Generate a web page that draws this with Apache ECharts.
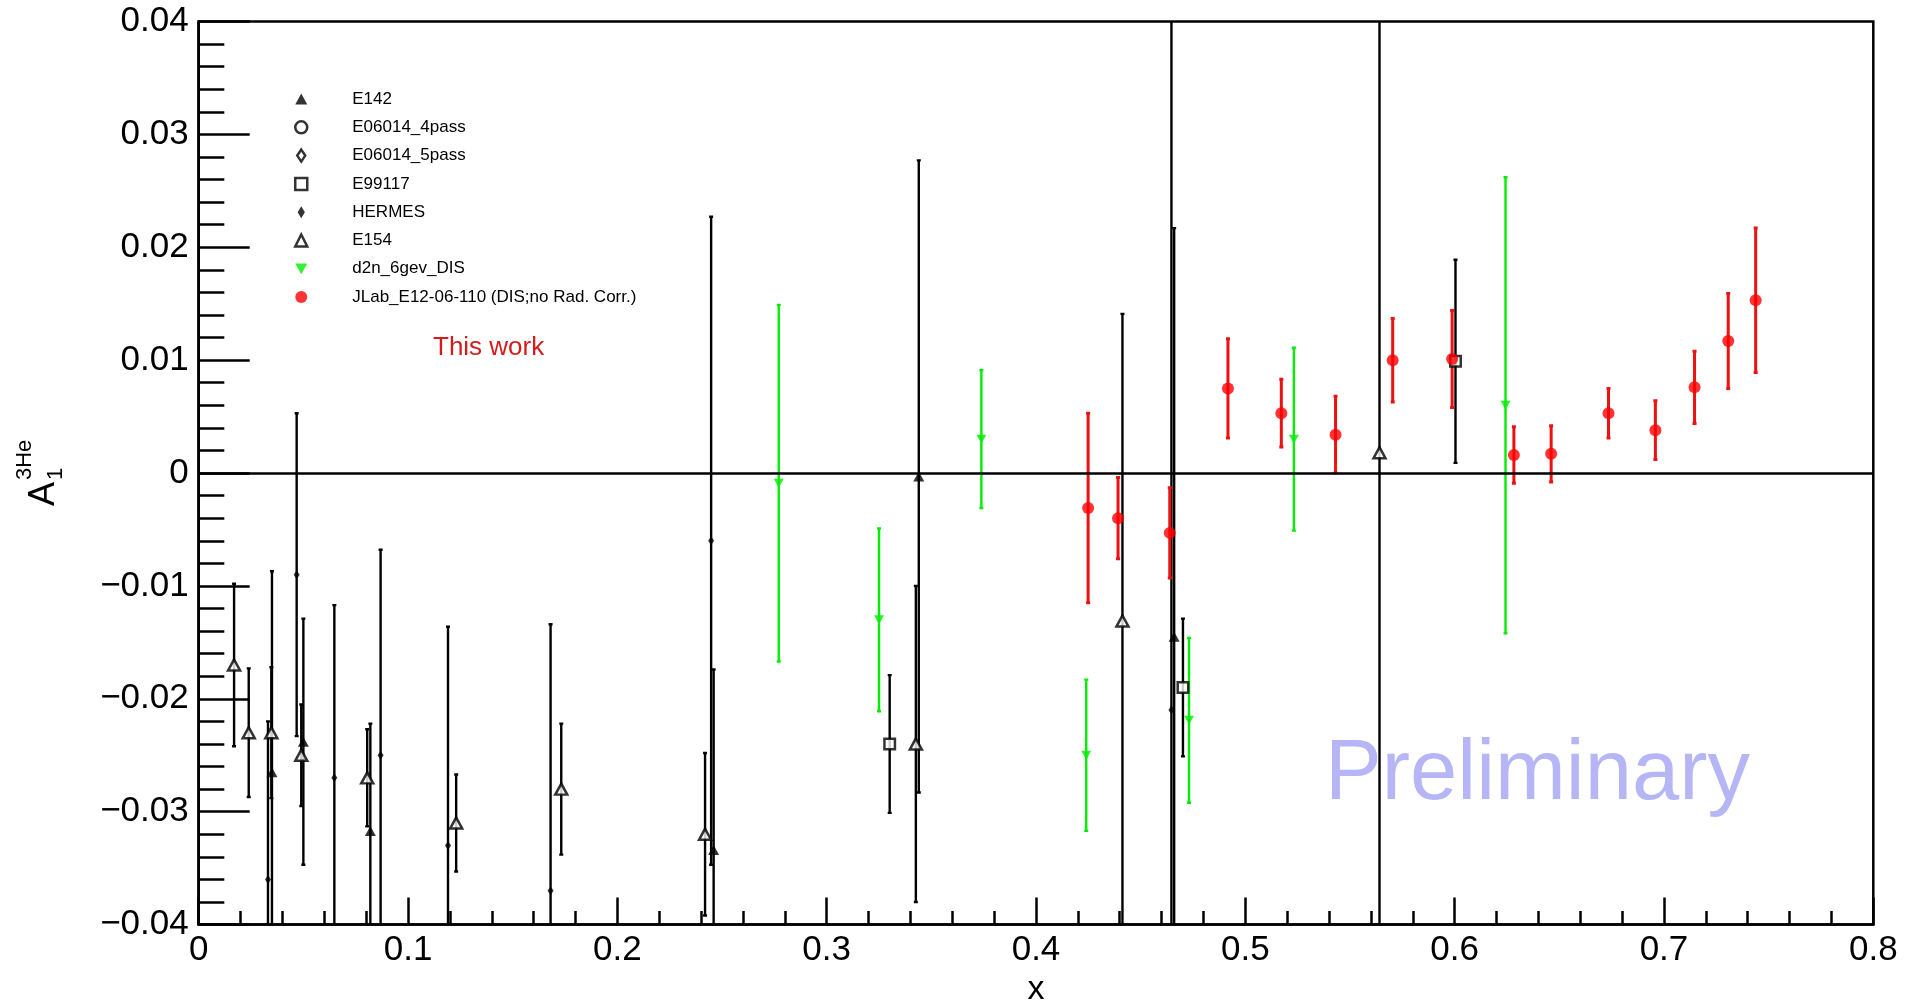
<!DOCTYPE html>
<html>
<head>
<meta charset="utf-8">
<script src="https://cdn.jsdelivr.net/npm/echarts@6.0.0/dist/echarts.min.js"></script>
<style>
  html, body { margin: 0; padding: 0; background: #fff; }
  #chart { width: 1911px; height: 1000px; }
</style>
</head>
<body>
<div id="chart"></div>
<script>
// ---- axis ticks ----
const xTickValues = [0, 0.1, 0.2, 0.3, 0.4, 0.5, 0.6, 0.7, 0.8];
const xTickLabels = ['0', '0.1', '0.2', '0.3', '0.4', '0.5', '0.6', '0.7', '0.8'];
const yTickValues = [-0.04, -0.03, -0.02, -0.01, 0, 0.01, 0.02, 0.03, 0.04];
const yTickLabels = ['\u22120.04', '\u22120.03', '\u22120.02', '\u22120.01', '0', '0.01', '0.02', '0.03', '0.04'];

// ---- data sets: x, A1, symmetric uncertainty ----
const e142X   = [0.035, 0.050, 0.082, 0.246, 0.344, 0.466];
const e142Y   = [-0.0265, -0.0238, -0.0317, -0.0334, -0.0003, -0.0145];
const e142Err = [0.0178, 0.0109, 0.0095, 0.0160, 0.0280, 0.0362];

const e06014p4X = [], e06014p4Y = [], e06014p4Err = [];
const e06014p5X = [], e06014p5Y = [], e06014p5Err = [];

const e99117X   = [0.3301, 0.4702, 0.6004];
const e99117Y   = [-0.0240, -0.0190, 0.0099];
const e99117Err = [0.0061, 0.0061, 0.0090];

const hermesX   = [0.0331, 0.0468, 0.0648, 0.0869, 0.1191, 0.1681, 0.2448, 0.4647];
const hermesY   = [-0.0360, -0.0090, -0.0270, -0.0250, -0.0330, -0.0370, -0.0060, -0.0210];
const hermesErr = [0.0140, 0.0143, 0.0153, 0.0182, 0.0194, 0.0236, 0.0287, 0.0650];

const e154X   = [0.0169, 0.0239, 0.0347, 0.0490, 0.0805, 0.1230, 0.1732, 0.2419, 0.3426, 0.4413, 0.5641];
const e154Y   = [-0.0170, -0.0230, -0.0230, -0.0250, -0.0270, -0.0310, -0.0280, -0.0320, -0.0240, -0.0131, 0.0018];
const e154Err = [0.0072, 0.0057, 0.0058, 0.0045, 0.0043, 0.0043, 0.0058, 0.0072, 0.0140, 0.0272, 0.0520];

const d2nX   = [0.2771, 0.3250, 0.3739, 0.4240, 0.4731, 0.5232, 0.6243];
const d2nY   = [-0.0009, -0.0130, 0.0030, -0.0250, -0.0219, 0.0030, 0.0060];
const d2nErr = [0.0158, 0.0081, 0.0061, 0.0067, 0.0073, 0.0081, 0.0202];

const jlabX   = [0.4249, 0.4392, 0.4639, 0.4917, 0.5172, 0.5431, 0.5704, 0.5988, 0.6283, 0.6461, 0.6735, 0.6959, 0.7146, 0.7307, 0.7438];
const jlabY   = [-0.0031, -0.0040, -0.0053, 0.0075, 0.0053, 0.0034, 0.0100, 0.0101, 0.0016, 0.0017, 0.0053, 0.0038, 0.0076, 0.0117, 0.0153];
const jlabErr = [0.0084, 0.0036, 0.0040, 0.0044, 0.0030, 0.0034, 0.0037, 0.0043, 0.0025, 0.0025, 0.0022, 0.0026, 0.0032, 0.0042, 0.0064];

const FONT = '"Liberation Sans", Arial, Helvetica, sans-serif';
const GREEN = '#00ee00';
const RED = '#ff0000';

function rows(xs, ys, es) {
  return xs.map((x, i) => [x, ys[i], es[i]]);
}

function pickLabel(values, labels) {
  return function (v) {
    const i = values.findIndex(t => Math.abs(t - v) < 1e-9);
    return i >= 0 ? labels[i] : '';
  };
}

// vertical error bar with short end caps
function errorBars(name, data, color, width) {
  return {
    type: 'custom',
    name: name + ' errors',
    clip: true,
    silent: true,
    data: data,
    encode: { x: 0, y: 1 },
    renderItem: function (params, api) {
      const x = api.value(0), y = api.value(1), e = api.value(2);
      const top = api.coord([x, y + e]);
      const bot = api.coord([x, y - e]);
      const st = { stroke: color, lineWidth: width };
      const cap = 2;
      return {
        type: 'group',
        children: [
          { type: 'line', shape: { x1: top[0], y1: top[1], x2: bot[0], y2: bot[1] }, style: st },
          { type: 'line', shape: { x1: top[0] - cap, y1: top[1], x2: top[0] + cap, y2: top[1] }, style: st },
          { type: 'line', shape: { x1: bot[0] - cap, y1: bot[1], x2: bot[0] + cap, y2: bot[1] }, style: st }
        ]
      };
    }
  };
}

function markers(name, data, opts) {
  return Object.assign({
    type: 'scatter',
    name: name,
    data: data.map(r => [r[0], r[1]]),
    silent: true,
    clip: true,
    emphasis: { disabled: true }
  }, opts);
}

const OPEN = { color: '#fff', borderColor: '#000', borderWidth: 2.5 };

const sets = [
  { name: 'E142', data: rows(e142X, e142Y, e142Err), bar: ['#000', 2.4],
    m: { symbol: 'triangle', symbolSize: [11, 10], itemStyle: { color: '#000' } },
    icon: 'path://M5,0 L10,9 L0,9 Z' },
  { name: 'E06014_4pass', data: rows(e06014p4X, e06014p4Y, e06014p4Err), bar: ['#000', 2.4],
    m: { symbol: 'circle', symbolSize: 10, itemStyle: OPEN },
    icon: 'circle', open: true },
  { name: 'E06014_5pass', data: rows(e06014p5X, e06014p5Y, e06014p5Err), bar: ['#000', 2.4],
    m: { symbol: 'diamond', symbolSize: [8, 12], itemStyle: OPEN },
    icon: 'path://M4,0 L8,6 L4,12 L0,6 Z', open: true },
  { name: 'E99117', data: rows(e99117X, e99117Y, e99117Err), bar: ['#000', 2.4],
    m: { symbol: 'rect', symbolSize: 10.5, itemStyle: OPEN },
    icon: 'rect', open: true },
  { name: 'HERMES', data: rows(hermesX, hermesY, hermesErr), bar: ['#000', 2.4],
    m: { symbol: 'diamond', symbolSize: [6, 9], itemStyle: { color: '#000' } },
    icon: 'path://M3,0 L6,5 L3,10 L0,5 Z' },
  { name: 'E154', data: rows(e154X, e154Y, e154Err), bar: ['#000', 2.4],
    m: { symbol: 'triangle', symbolSize: [12, 11], itemStyle: OPEN },
    icon: 'triangle', open: true },
  { name: 'd2n_6gev_DIS', data: rows(d2nX, d2nY, d2nErr), bar: [GREEN, 2.4],
    m: { symbol: 'triangle', symbolRotate: 180, symbolSize: [10, 9], itemStyle: { color: GREEN } },
    icon: 'path://M0,0 L10,0 L5,9 Z' },
  { name: 'JLab_E12-06-110 (DIS;no Rad. Corr.)', data: rows(jlabX, jlabY, jlabErr), bar: ['#ee1111', 3],
    m: { symbol: 'circle', symbolSize: 12, itemStyle: { color: RED } },
    icon: 'circle' }
];

const series = [];
// zero reference line
series.push({
  type: 'line',
  name: 'zero',
  data: [],
  silent: true,
  markLine: {
    silent: true,
    symbol: ['none', 'none'],
    label: { show: false },
    lineStyle: { color: '#000', width: 2.5, type: 'solid' },
    emphasis: { disabled: true },
    data: [[{ coord: [0, 0] }, { coord: [0.8, 0] }]]
  }
});
sets.forEach(s => {
  series.push(errorBars(s.name, s.data, s.bar[0], s.bar[1]));
  series.push(markers(s.name, s.data, s.m));
});

const chart = echarts.init(document.getElementById('chart'), null, { renderer: 'canvas' });
chart.setOption({
  animation: false,
  backgroundColor: '#fff',
  textStyle: { fontFamily: FONT },
  grid: {
    left: 198.7, right: 37.7, top: 21.5, bottom: 75.4,
    show: true, borderColor: '#000', borderWidth: 2.5, backgroundColor: 'transparent',
    containLabel: false, outerBoundsMode: 'none'
  },
  xAxis: {
    type: 'value', min: 0, max: 0.8, interval: 0.1,
    axisLine: { show: true, onZero: false, lineStyle: { color: '#000', width: 2.5 } },
    axisTick: { show: true, inside: true, length: 27, lineStyle: { color: '#000', width: 2.5 } },
    minorTick: { show: true, splitNumber: 5, length: 13.5, lineStyle: { color: '#000', width: 2.5 } },
    splitLine: { show: false }, minorSplitLine: { show: false },
    axisLabel: { formatter: pickLabel(xTickValues, xTickLabels), fontSize: 35, color: '#000', margin: 8, fontFamily: FONT, showMinLabel: true, showMaxLabel: true },
    name: 'x', nameLocation: 'middle', nameGap: 39,
    nameTextStyle: { fontSize: 34, color: '#000', fontFamily: FONT }
  },
  yAxis: {
    type: 'value', min: -0.04, max: 0.04, interval: 0.01,
    axisLine: { show: true, onZero: false, lineStyle: { color: '#000', width: 2.5 } },
    axisTick: { show: true, inside: true, length: 51, lineStyle: { color: '#000', width: 2.5 } },
    minorTick: { show: true, splitNumber: 5, length: 25.6, lineStyle: { color: '#000', width: 2.5 } },
    splitLine: { show: false }, minorSplitLine: { show: false },
    axisLabel: { formatter: pickLabel(yTickValues, yTickLabels), fontSize: 35, color: '#000', margin: 10, fontFamily: FONT, showMinLabel: true, showMaxLabel: true }
  },
  legend: {
    orient: 'vertical', left: 294, top: 89, padding: 0,
    itemWidth: 12, itemHeight: 12, itemGap: 8.3, itemTextGap: 47,
    selectedMode: false,
    textStyle: { fontSize: 17, color: '#000', fontFamily: FONT, lineHeight: 20, padding: [0, 0, 0, 40] },
    data: sets.map(s => s.open
      ? { name: s.name, icon: s.icon, itemStyle: { color: '#fff', borderColor: '#000', borderWidth: 2.5 } }
      : { name: s.name, icon: s.icon })
  },
  graphic: [
    {
      type: 'text', x: 433, y: 348, silent: true,
      style: { text: 'This work', fill: '#d41c1c', font: '26px ' + FONT,
               textAlign: 'left', textVerticalAlign: 'middle', align: 'left', verticalAlign: 'middle' }
    },
    {
      type: 'text', x: 1325, y: 776, silent: true,
      style: { text: 'Preliminary', fill: '#b6b6f6', font: '85px ' + FONT,
               textAlign: 'left', textVerticalAlign: 'middle', align: 'left', verticalAlign: 'middle' }
    },
    {
      type: 'group', x: 43, y: 479, rotation: Math.PI / 2, silent: true,
      children: [
        { type: 'text', x: -27, y: 1, style: { text: 'A', fill: '#000', font: '36px ' + FONT,
            textAlign: 'left', textVerticalAlign: 'middle', align: 'left', verticalAlign: 'middle' } },
        { type: 'text', x: -1, y: -18, style: { text: '3He', fill: '#000', font: '22px ' + FONT,
            textAlign: 'left', textVerticalAlign: 'middle', align: 'left', verticalAlign: 'middle' } },
        { type: 'text', x: -1, y: 13, style: { text: '1', fill: '#000', font: '22px ' + FONT,
            textAlign: 'left', textVerticalAlign: 'middle', align: 'left', verticalAlign: 'middle' } }
      ]
    }
  ],
  series: series
});
</script>
</body>
</html>
